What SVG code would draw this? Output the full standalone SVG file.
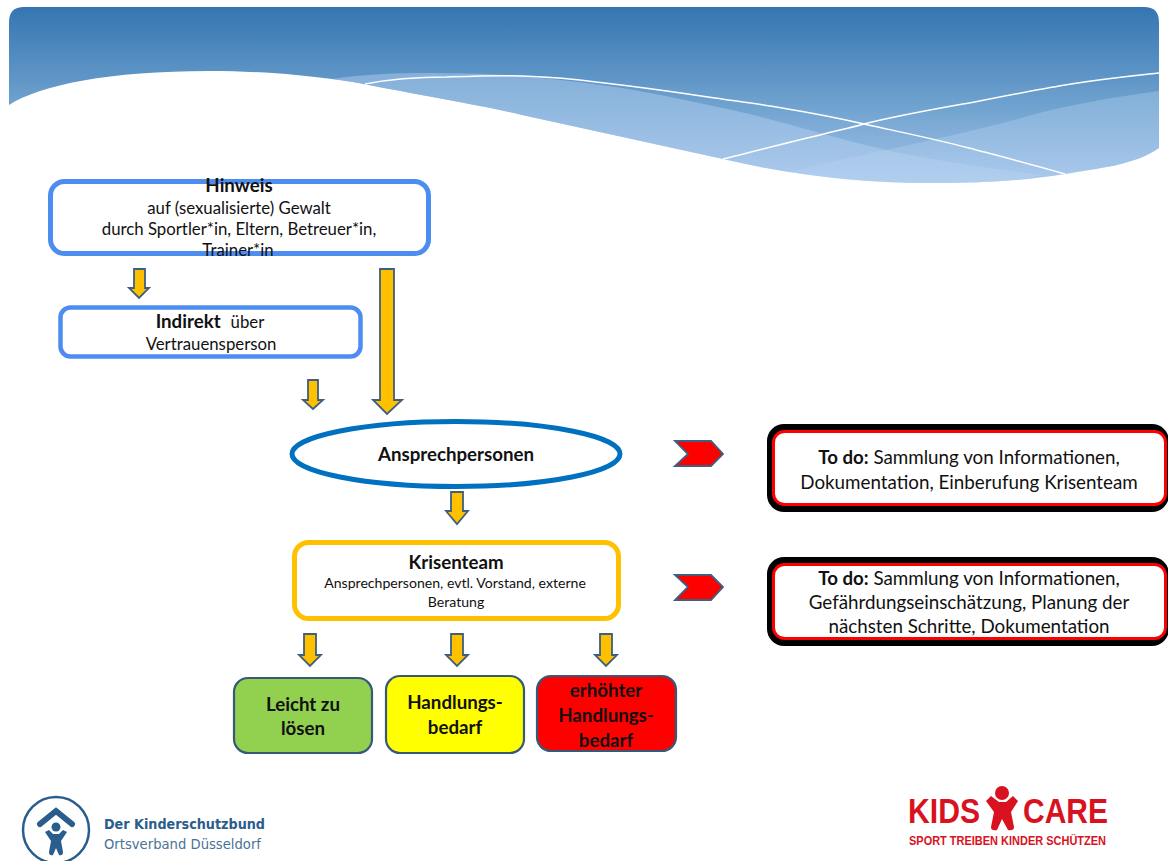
<svg xmlns="http://www.w3.org/2000/svg" width="1168" height="861" viewBox="0 0 1168 861">
<style>
text{font-family:"Lato","Carlito","Noto Sans",sans-serif;fill:#111;text-anchor:middle}
.b{font-weight:700;font-size:18.700px}
.t15{font-size:16.800px}
.t18{font-size:18.800px}
.t14{font-size:14.100px}
.arrow{fill:#ffc000;stroke:#3e5f80;stroke-width:1.800}
.chev{fill:#ff0000;stroke:#3e5f80;stroke-width:1.800}
.blue{fill:#fff;stroke:#4e8df0}
.outcome{stroke:#36597a;stroke-width:2.200}
.todo-o{fill:#000}
.todo-i{fill:#fff;stroke:#ff0000;stroke-width:3}
.line{fill:none;stroke:#fff;stroke-width:1.500}
.band{fill:#b8d3f2}
.l{text-anchor:start}
</style>
<defs>
<linearGradient id="hdr" gradientUnits="userSpaceOnUse" x1="0" y1="7" x2="0" y2="185">
<stop offset="0" stop-color="#3575b1"/><stop offset="0.55" stop-color="#6fa2cf"/><stop offset="1" stop-color="#a5c4ea"/>
</linearGradient>
</defs>
<rect width="1168" height="861" fill="#fff"/>
<g id="header">
<path d="M9,105 C40,85 110,71 209,71 C260,71 300,75 332,79 C345,81 355,82 363,84 C420,95 480,105 522,115 C589,130 656,144 723,159 C790,175 860,183 931,183 C985,183 1030,180 1065,174 C1100,168 1135,165 1159,148 V22 Q1159,7 1144,7 H24 Q9,7 9,22 Z" fill="url(#hdr)"/>
<path class="band" opacity="0.45" d="M332,79 C365,74 395,73 425,73 C460,73 495,74 522,76 C575,81 625,87 670,97 C695,102 720,107 745,113 C770,119 795,126 820,133 C845,140 870,146 894,152 C920,157 945,161 969,165 C995,169 1020,172 1043,175 C1015,181 985,183 931,183 C860,183 790,175 723,159 C656,144 589,130 522,115 C480,105 420,95 363,84 C355,82 345,81 332,79 Z"/>
<path class="band" opacity="0.35" d="M790,172 C835,160 885,151 931,140 C970,131 1005,123 1043,112 C1080,103 1120,96 1159,91 V148 C1135,165 1100,168 1065,174 C1030,180 985,183 931,183 C880,183 835,180 790,172 Z"/>
<path class="line" d="M365,84 C390,79 420,77 447,77 C475,76 500,75 522,76 C550,77 575,79 596,82 C640,87 675,92 708,97 C735,101 760,104 782,108 C812,113 838,118 864,124 C900,132 935,139 969,148 C1003,157 1034,165 1065,174"/>
<path class="line" d="M723,159 C755,151 790,142 820,135 C835,131 850,128 864,124 C900,115 935,109 969,103 C1000,97 1035,90 1065,85 C1095,80 1130,76 1159,73"/>
</g>
<g id="connectors">
<path class="arrow" d="M134,269H145V288H149L139,298L129,288H134Z"/>
<path class="arrow" d="M380,269H394V400H402L387,414L373,400H380Z"/>
<path class="arrow" d="M308,380H318V400H323L313,409L303,400H308Z"/>
<path class="arrow" d="M451,492H463V511H468L457,524L446,511H451Z"/>
<path class="arrow" d="M304,634H316V655H321L310,666L299,655H304Z"/>
<path class="arrow" d="M451,634H463V655H468L457,666L446,655H451Z"/>
<path class="arrow" d="M600,634H612V655H617L606,666L595,655H600Z"/>
<path class="chev" d="M675,441H711L723,454L711,466H675L688,454Z"/>
<path class="chev" d="M675,575H711L723,587L711,600H675L688,587Z"/>
</g>
<g id="node-hinweis">
<rect class="blue" x="50.500" y="181.500" width="378" height="72" rx="14" stroke-width="5"/>
<text class="b" x="239" y="192">Hinweis</text>
<text class="t15" x="239" y="214">auf (sexualisierte) Gewalt</text>
<text class="t15" x="239" y="235">durch Sportler*in, Eltern, Betreuer*in,</text>
<text class="t15" x="238" y="256">Trainer*in</text>
</g>
<g id="node-indirekt">
<rect class="blue" x="60.500" y="307.500" width="300" height="49" rx="10" stroke-width="4.500"/>
<text class="t15" x="210" y="328"><tspan class="b">Indirekt</tspan><tspan dx="10">über</tspan></text>
<text class="t15" x="211" y="350">Vertrauensperson</text>
</g>
<g id="node-ansprech">
<ellipse cx="456" cy="454" rx="164" ry="32.500" fill="#fff" stroke="#0070c0" stroke-width="5"/>
<text class="b" x="456" y="461">Ansprechpersonen</text>
</g>
<g id="node-krisenteam">
<rect x="294.500" y="542.500" width="324" height="76" rx="14" fill="#fff" stroke="#ffc000" stroke-width="5"/>
<text class="b" x="456" y="569">Krisenteam</text>
<text class="t14" x="455" y="588">Ansprechpersonen, evtl. Vorstand, externe</text>
<text class="t14" x="456" y="607">Beratung</text>
</g>
<g id="node-leicht">
<rect class="outcome" x="234" y="678" width="138" height="75" rx="14" fill="#92d050"/>
<text class="b" x="303" y="711">Leicht zu</text>
<text class="b" x="303" y="735">lösen</text>
</g>
<g id="node-handlung">
<rect class="outcome" x="386" y="676" width="138" height="77" rx="14" fill="#ffff00"/>
<text class="b" x="455" y="709">Handlungs-</text>
<text class="b" x="455" y="734">bedarf</text>
</g>
<g id="node-erhoeht">
<rect class="outcome" x="537" y="676" width="139" height="75" rx="14" fill="#ff0000"/>
<text class="b" x="606" y="697">erhöhter</text>
<text class="b" x="606" y="722">Handlungs-</text>
<text class="b" x="606" y="747">bedarf</text>
</g>
<g id="node-todo1">
<rect class="todo-o" x="767" y="424" width="402" height="88" rx="17"/>
<rect class="todo-i" x="773.500" y="431.500" width="392" height="73" rx="11"/>
<text class="t18" x="969" y="464"><tspan class="b">To do:</tspan> Sammlung von Informationen,</text>
<text class="t18" x="969" y="489">Dokumentation, Einberufung Krisenteam</text>
</g>
<g id="node-todo2">
<rect class="todo-o" x="767" y="557" width="402" height="89" rx="17"/>
<rect class="todo-i" x="773.500" y="564.500" width="392" height="74" rx="11"/>
<text class="t18" x="969" y="585"><tspan class="b">To do:</tspan> Sammlung von Informationen,</text>
<text class="t18" x="969" y="609">Gefährdungseinschätzung, Planung der</text>
<text class="t18" x="969" y="633">nächsten Schritte, Dokumentation</text>
</g>
<g id="logo-kinderschutzbund">
<circle cx="56" cy="830" r="33" fill="none" stroke="#2a5d8c" stroke-width="2.500"/>
<path d="M40,824L56,811L72,824" fill="none" stroke="#2a5d8c" stroke-width="6" stroke-linecap="round"/>
<circle cx="56" cy="827" r="4.500" fill="#2a5d8c"/>
<path d="M45,832L49,830L53,834H59L63,830L67,832L61,841L63,852Q63,856 59,855L56,848L53,855Q49,856 49,852L51,841Z" fill="#2a5d8c"/>
<text class="l" x="104" y="829" font-size="14" font-weight="700" style="fill:#2a5d8c;font-family:'DejaVu Sans',sans-serif" textLength="161" lengthAdjust="spacingAndGlyphs">Der Kinderschutzbund</text>
<text class="l" x="104" y="849" font-size="14" style="fill:#4a7396;font-family:'DejaVu Sans',sans-serif" textLength="157" lengthAdjust="spacingAndGlyphs">Ortsverband Düsseldorf</text>
</g>
<g id="logo-kidscare">
<text class="l" x="908" y="823" font-size="35" font-weight="700" style="fill:#d9121f;font-family:'Liberation Sans',sans-serif" textLength="72" lengthAdjust="spacingAndGlyphs">KIDS</text>
<text class="l" x="1023" y="823" font-size="35" font-weight="700" style="fill:#d9121f;font-family:'Liberation Sans',sans-serif" textLength="85" lengthAdjust="spacingAndGlyphs">CARE</text>
<circle cx="1002" cy="793" r="7" fill="#d9121f"/>
<path d="M986,801L991,796L999,802H1006L1013,796L1018,801L1011,812L1014,827Q1014,831 1008,830L1002,819L997,830Q991,831 991,827L994,812Z" fill="#d9121f"/>
<text class="l" x="909" y="845" font-size="12" font-weight="700" style="fill:#d9121f;font-family:'Liberation Sans',sans-serif" textLength="197" lengthAdjust="spacingAndGlyphs">SPORT TREIBEN KINDER SCHÜTZEN</text>
</g>
</svg>
